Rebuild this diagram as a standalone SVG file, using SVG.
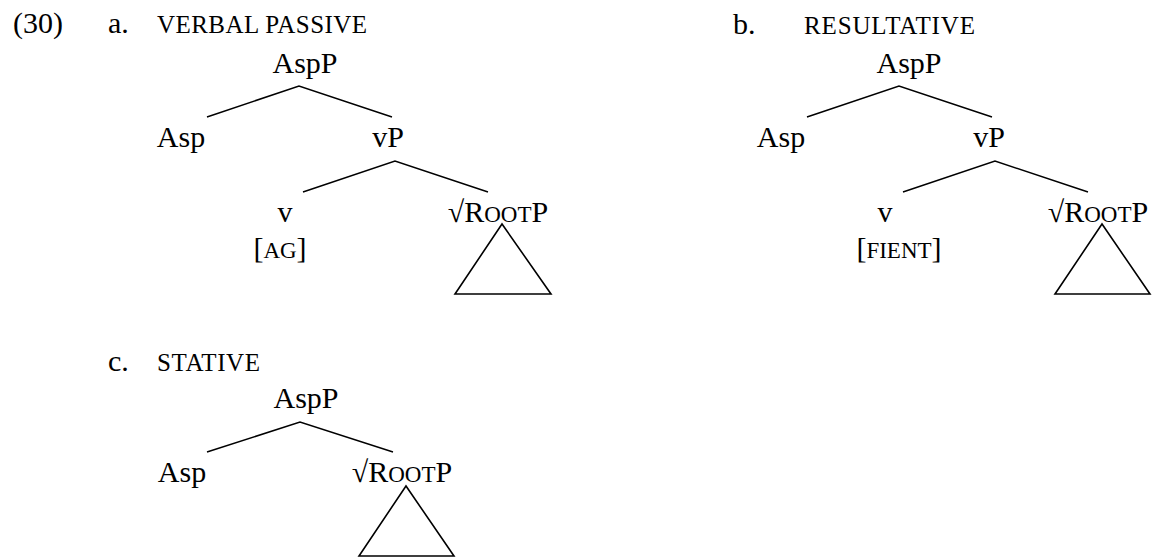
<svg xmlns="http://www.w3.org/2000/svg" width="1153" height="558" viewBox="0 0 1153 558">
<style>
text{font-family:"Liberation Serif","Times New Roman",Tinos,"DejaVu Serif",serif;fill:#000;font-size:30px}
.m{text-anchor:middle}
.sc{font-size:23px}
.lab{font-size:25px}
.e{stroke:#000;stroke-width:1.5;fill:none}
.tri{stroke:#000;stroke-width:1.6;fill:none;stroke-linejoin:miter}
</style>
<rect width="1153" height="558" fill="#fff"/>
<g id="example-number"><text x="13" y="33">(30)</text></g>
<g id="label-a"><text x="108" y="33">a.</text><text class="lab" x="157" y="33" textLength="210" lengthAdjust="spacing">VERBAL PASSIVE</text></g>
<g id="label-b"><text x="733" y="34">b.</text><text class="lab" x="804" y="34" textLength="171" lengthAdjust="spacing">RESULTATIVE</text></g>
<g id="label-c"><text x="108" y="371">c.</text><text class="lab" x="157" y="371" textLength="103" lengthAdjust="spacing">STATIVE</text></g>

<g id="connectors">
<path class="e" d="M207 117L299 86L392 117M303 192L395 161L488 192"/>
<path class="e" d="M807 117L899 86L992 117M903 192L995 161L1088 192"/>
<path class="e" d="M207 452L300 422L393 452"/>
</g>

<g id="a-AspP"><text class="m" x="305" y="73">AspP</text></g>
<g id="a-Asp"><text class="m" x="181" y="147">Asp</text></g>
<g id="a-vP"><text class="m" x="388" y="147">vP</text></g>
<g id="a-v"><text class="m" x="285" y="222">v</text><text class="m" x="280" y="258">[<tspan class="sc">AG</tspan>]</text></g>
<g id="a-RootP"><text class="m" x="498" y="222">√R<tspan class="sc">OOT</tspan>P</text><path class="tri" d="M502 224L455 294H551Z"/></g>

<g id="b-AspP"><text class="m" x="909" y="73">AspP</text></g>
<g id="b-Asp"><text class="m" x="781" y="147">Asp</text></g>
<g id="b-vP"><text class="m" x="989" y="147">vP</text></g>
<g id="b-v"><text class="m" x="885" y="222">v</text><text class="m" x="899" y="258">[<tspan class="sc">FIENT</tspan>]</text></g>
<g id="b-RootP"><text class="m" x="1098" y="222">√R<tspan class="sc">OOT</tspan>P</text><path class="tri" d="M1102 224L1055 294H1150Z"/></g>

<g id="c-AspP"><text class="m" x="306" y="408">AspP</text></g>
<g id="c-Asp"><text class="m" x="182" y="482">Asp</text></g>
<g id="c-RootP"><text class="m" x="402" y="482">√R<tspan class="sc">OOT</tspan>P</text><path class="tri" d="M406 486L359 556H454Z"/></g>
</svg>
